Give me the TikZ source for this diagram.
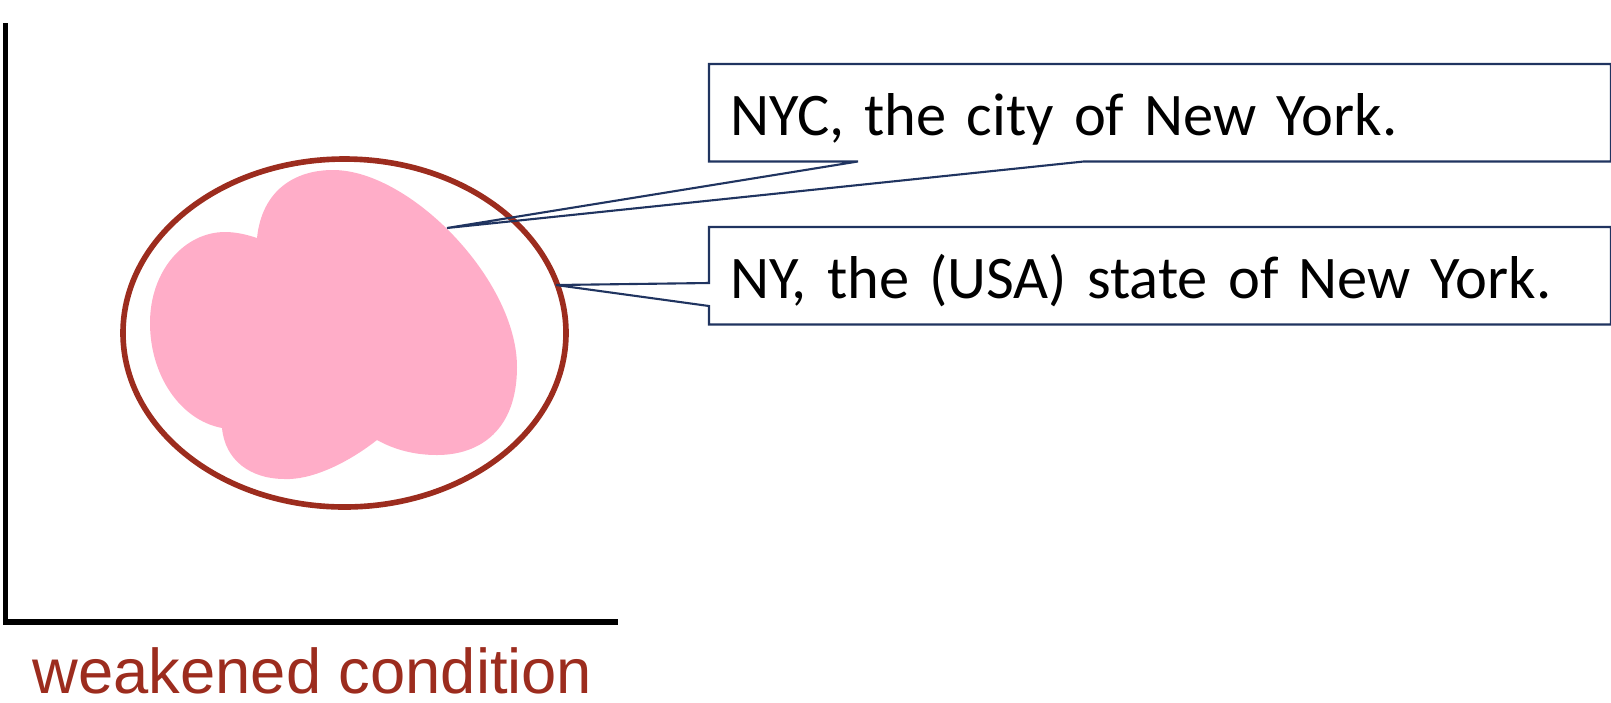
\documentclass[tikz,border=0pt]{standalone}
\usepackage{fontspec}
\usepackage{xcolor}
\usepackage{tikz}
\usetikzlibrary{calc}
\newfontfamily\calfont{Carlito}
\newfontfamily\arialfont{Liberation Sans}
\definecolor{figaxis}{RGB}{0,0,0}
\definecolor{figred}{RGB}{156,44,30}
\definecolor{figpink}{RGB}{255,173,200}
\definecolor{fignavy}{RGB}{32,52,96}
\tikzset{
  ax/.style   ={draw=figaxis, line width=1.7pt, line cap=butt, line join=miter},
  rim/.style  ={draw=figred, line width=1.6pt},
  blob/.style ={fill=figpink},
  cbox/.style ={font=\calfont\fontsize{17.2}{21}\selectfont, align=left, anchor=north west,
                text width=8.58cm, inner xsep=0.21cm, inner ysep=0pt,
                text height=0.45cm, text depth=0cm, minimum height=0.96cm},
  cline/.style={draw=fignavy, line width=0.6pt, line join=miter},
  xlab/.style ={font=\arialfont\fontsize{18}{22}\selectfont, text=figred, anchor=base,
                inner sep=0pt, text depth=0pt},
}

\begin{document}
\begin{tikzpicture}[x=0.01cm, y=-0.01cm]
  \useasboundingbox (0,0) rectangle (1611,702);
  % axes
  \coordinate (top) at (5.5,23);
  \coordinate (origin) at (5.5,622);
  \coordinate (right) at (618,622);
  \draw[ax] (top) -- (origin) -- (right);
  \node[xlab] (xname) at (312.5,693) {weakened condition};
  % pink blob and the set
  \fill[blob] (257,238) .. controls (262,190) and (295,170) .. (333,170)
    .. controls (410,170) and (517,280) .. (517,367)
    .. controls (517,430) and (480,455) .. (437,455)
    .. controls (415,455) and (395,450) .. (377,440)
    .. controls (345,465) and (310,480) .. (285,479)
    .. controls (250,479) and (225,460) .. (222,428)
    .. controls (180,420) and (150,375) .. (150,323)
    .. controls (150,270) and (185,232) .. (225,232)
    .. controls (237,232) and (248,235) .. (257,238) -- cycle;
  \draw[rim] (344.5,333) ellipse [x radius=221.5, y radius=174];
  % callouts
  \coordinate (nycTip) at (447,228);
  \coordinate (nyTip) at (556,285);
  \node[cbox] (nyc) at (709,64) {NYC, the city of New York.};
  \node[cbox] (ny) at (709,227) {NY, the (USA) state of New York.};
  \draw[cline] ($(nyc.south west)+(375,0)$) -- (nycTip) -- ($(nyc.south west)+(149,0)$)
    -- (nyc.south west) -- (nyc.north west) -- (nyc.north east) -- (nyc.south east) -- cycle;
  \draw[cline] ($(ny.north west)+(0,56)$) -- (nyTip) -- ($(ny.north west)+(0,79)$)
    -- (ny.south west) -- (ny.south east) -- (ny.north east) -- (ny.north west) -- cycle;
\end{tikzpicture}
\end{document}
